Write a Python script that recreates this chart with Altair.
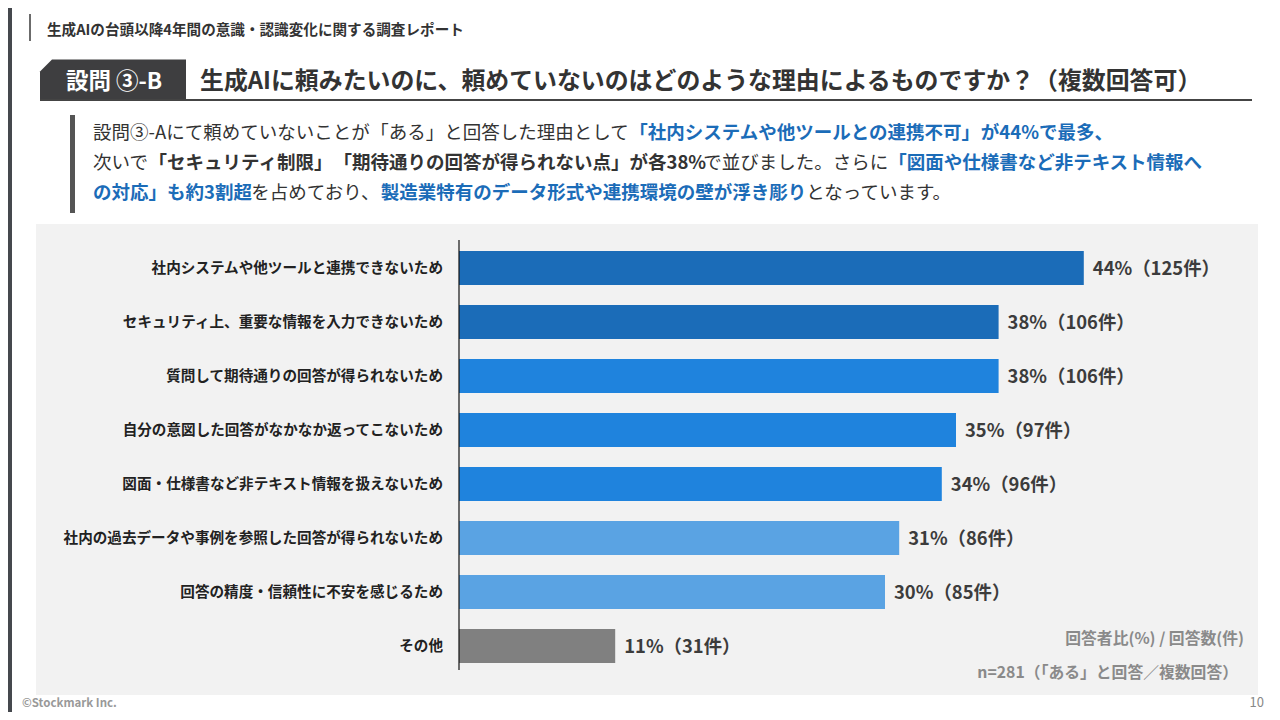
import altair as alt
import pandas as pd

# ---------------- data ----------------
categories = [
    "社内システムや他ツールと連携できないため",
    "セキュリティ上、重要な情報を入力できないため",
    "質問して期待通りの回答が得られないため",
    "自分の意図した回答がなかなか返ってこないため",
    "図面・仕様書など非テキスト情報を扱えないため",
    "社内の過去データや事例を参照した回答が得られないため",
    "回答の精度・信頼性に不安を感じるため",
    "その他",
]
percents = [44, 38, 38, 35, 34, 31, 30, 11]
counts = [125, 106, 106, 97, 96, 86, 85, 31]
bar_colors = ["#1b6cb8", "#1b6cb8", "#1f83dd", "#1f83dd", "#1f83dd",
              "#5aa3e3", "#5aa3e3", "#808080"]

header_text = "生成AIの台頭以降4年間の意識・認識変化に関する調査レポート"
badge_text = "設問 ③-B"
title_text = "生成AIに頼みたいのに、頼めていないのはどのような理由によるものですか？（複数回答可）"
para_lines = [
    [("設問③-Aにて頼めていないことが", "n"), ("「ある」", "n"),
     ("と回答した理由として", "n"),
     ("「社内システムや他ツールとの連携不可」", "b"), ("が44%で最多、", "b")],
    [("次いで", "n"),
     ("「セキュリティ制限」", "k"), ("「期待通りの回答が得られない点」", "k"),
     ("が各38%", "k"),
     ("で並びました。さらに", "n"),
     ("「図面や仕様書など非テキスト情報へ", "b")],
    [("の対応」", "b"), ("も約3割超", "b"),
     ("を占めており、", "n"),
     ("製造業特有のデータ形式や連携環境の壁が浮き彫り", "b"),
     ("となっています。", "n")],
]
note1 = "回答者比(%) / 回答数(件)"
note2 = "n=281（「ある」と回答／複数回答）"
copyright_text = "©Stockmark Inc."
page_no = "10"

df = pd.DataFrame({"cat": categories, "pct": percents, "cnt": counts})
df["label"] = [f"{p}%（{c}件）" for p, c in zip(percents, counts)]

FONT = "Noto Sans CJK JP"
OFF = 8  # page margin
TXT_DY = 2


def X(v):
    return alt.value(v - OFF)


def Y(v):
    return alt.value(v - OFF)


one = alt.Data(values=[{"k": 1}])

xscale = alt.Scale(domain=[0, 50], range=[459 - OFF, 459 - OFF + 14.2 * 50])
yscale = alt.Scale(domain=categories, range=[241 - OFF, 673 - OFF],
                   paddingInner=0.37, paddingOuter=0.185)


def rect(x1, x2, y1, y2, color):
    return alt.Chart(one).mark_rect(color=color, strokeWidth=0).encode(
        x=X(x1), x2=X(x2), y=Y(y1), y2=Y(y2))


def txt(s, x, y, size, color, weight="normal", align="left"):
    return alt.Chart(one).mark_text(
        text=s, font=FONT, fontSize=size, color=color, fontWeight=weight,
        align=align, baseline="middle").encode(x=X(x), y=Y(y + TXT_DY))


def em_width(s):
    w = 0.0
    for ch in s:
        if ord(ch) < 128:
            if ch.isdigit():
                w += 0.56
            elif ch == "%":
                w += 0.86
            elif ch == "-":
                w += 0.35
            elif ch == "A":
                w += 0.64
            else:
                w += 0.55
        else:
            w += 1.0
    return w


layers = []
# background panel
layers.append(rect(36, 1258, 224, 695, "#f2f2f2"))
# left decorative strip
layers.append(rect(8, 12, 8, 720, "#45484d"))
# header
layers.append(rect(29, 31, 14, 41, "#6b6b6b"))
layers.append(txt(header_text, 47, 29, 14.6, "#333333", "bold"))

# badge with cut corner
bw, bh, cut = 146.0, 41.0, 12.0
h = bh / bw
c = cut / (bw / 2)
badge_path = (f"M -1 {-h + c:.4f} L {-1 + c:.4f} {-h:.4f} L 1 {-h:.4f} "
              f"L 1 {h:.4f} L -1 {h:.4f} Z")
layers.append(alt.Chart(one).mark_point(
    shape=badge_path, filled=True, size=bw * bw, color="#3e3e40",
    opacity=1, strokeWidth=0).encode(x=X(40 + bw / 2), y=Y(59.5 + bh / 2)))
layers.append(txt(badge_text, 114, 80, 22.5, "#ffffff", "bold", "center"))
layers.append(txt(title_text, 200, 80, 23.9, "#333333", "bold"))
layers.append(rect(40, 1252, 99, 101, "#444444"))

# paragraph
layers.append(rect(70, 75, 115, 213, "#555555"))
PFS = 18.5
styles = {"n": ("#333333", "normal"), "k": ("#333333", "bold"),
          "b": ("#1b6cb8", "bold")}
for i, line in enumerate(para_lines):
    xx = 93.0
    yy = 131 + 30 * i
    for s, st in line:
        col, wt = styles[st]
        layers.append(txt(s, xx, yy, PFS, col, wt))
        xx += em_width(s) * PFS

# bars
base = alt.Chart(df)
layers.append(base.mark_bar(size=34).encode(
    x=alt.X("pct:Q", scale=xscale, axis=None),
    y=alt.Y("cat:N", scale=yscale, sort=categories, axis=None),
    color=alt.Color("cat:N", scale=alt.Scale(domain=categories, range=bar_colors),
                    legend=None),
))
# axis line
layers.append(alt.Chart(one).mark_rule(color="#111111", strokeWidth=1.2).encode(
    x=alt.X(datum=0, type="quantitative", scale=xscale, axis=None),
    y=Y(240), y2=Y(670)))
# category labels
layers.append(base.mark_text(font=FONT, fontSize=14.6, fontWeight="bold",
                             color="#222222", align="right", baseline="middle",
                             dy=1).encode(
    x=X(443), y=alt.Y("cat:N", scale=yscale, sort=categories, axis=None),
    text="cat:N"))
# value labels
layers.append(base.mark_text(font=FONT, fontSize=18.4, fontWeight="bold",
                             color="#3c3c3c", align="left", baseline="middle",
                             dx=9, dy=1).encode(
    x=alt.X("pct:Q", scale=xscale, axis=None),
    y=alt.Y("cat:N", scale=yscale, sort=categories, axis=None),
    text="label:N"))

# notes
layers.append(txt(note1, 1244, 637, 15.8, "#8a8a8a", "bold", "right"))
layers.append(txt(note2, 1238, 671, 15.8, "#8a8a8a", "bold", "right"))
layers.append(txt(copyright_text, 22, 702, 11.5, "#999999", "bold"))
layers.append(txt(page_no, 1264, 701, 13, "#888888", "normal", "right"))

chart = alt.layer(*layers).properties(
    width=1264, height=704,
    autosize=alt.AutoSizeParams(type="none"),
    padding=0,
    background="#ffffff",
).configure_view(strokeWidth=0)

chart.save("out.html", embed_options={"renderer": "svg", "actions": False})
